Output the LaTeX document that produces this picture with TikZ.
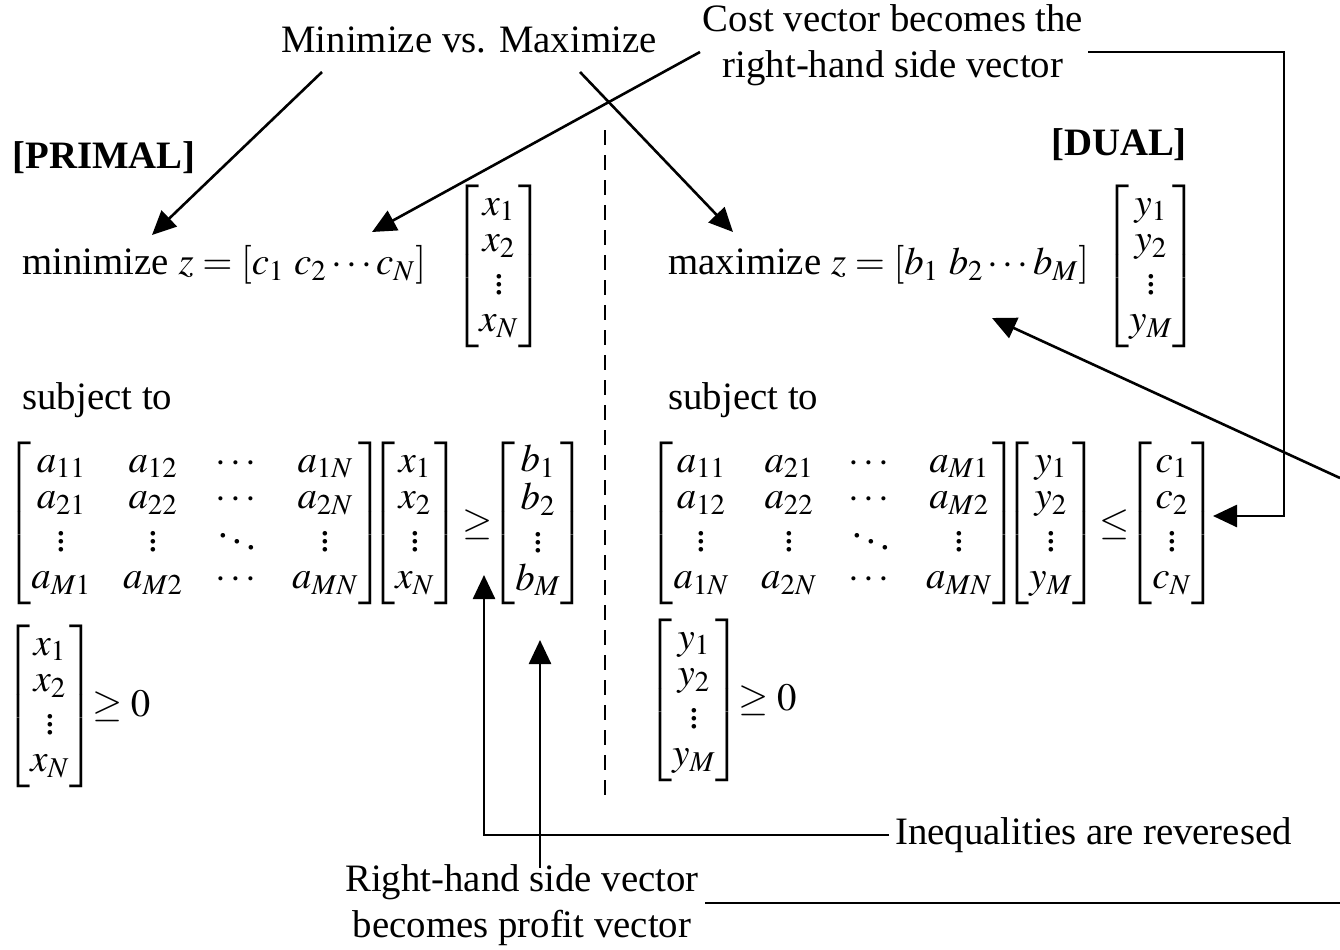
\documentclass[tikz,border=0pt]{standalone}
\usepackage{amsmath}
\usepackage{mathptmx}
\usepackage{fontspec}
\setmainfont{Liberation Serif}
\usetikzlibrary{arrows.meta}
\renewcommand{\arraystretch}{0.8}
\newcommand{\wideA}[1]{{\setlength{\arraycolsep}{8pt}#1}}
\begin{document}
\begin{tikzpicture}[x=0.5pt,y=-0.5pt,
  every node/.style={font=\fontsize{19.4}{23}\selectfont, inner sep=0pt},
  conn/.style={line width=1.3pt},
  arr/.style={conn,-{Triangle[length=12pt,width=11pt]}},
  bold/.style={font=\fontsize{19.4}{23}\selectfont\bfseries}]
\useasboundingbox (0,0) rectangle (1340,949);
% texts
\node (mvm) at (469,40) {Minimize vs. Maximize};
\node[align=center] (cost) at (893,45) {Cost vector becomes the\\right-hand side vector};
\node[bold] (primal) at (104,158) {[PRIMAL]};
\node[bold] (dual) at (1119,145) {[DUAL]};
\node[anchor=west] (pobj) at (22,265) {minimize $z=[c_1\ c_2\cdots c_N]$};
\node (px) at (499,266) {$\begin{bmatrix}x_1\\x_2\\\vdots\\x_N\end{bmatrix}$};
\node[anchor=west] (dobj) at (668,265) {maximize $z=[b_1\ b_2\cdots b_M]$};
\node (dy) at (1151,266) {$\begin{bmatrix}y_1\\y_2\\\vdots\\y_M\end{bmatrix}$};
\node[anchor=west] (pst) at (22,400) {subject to};
\node[anchor=west] (dst) at (668,400) {subject to};
% primal constraints
\node (pA) at (195,523) {\wideA{$\begin{bmatrix}a_{11}&a_{12}&\cdots&a_{1N}\\a_{21}&a_{22}&\cdots&a_{2N}\\\vdots&\vdots&\ddots&\vdots\\a_{M1}&a_{M2}&\cdots&a_{MN}\end{bmatrix}$}};
\node (pxv) at (415,523) {$\begin{bmatrix}x_1\\x_2\\\vdots\\x_N\end{bmatrix}$};
\node (pge) at (478,525) {$\geq$};
\node (pb) at (538,523) {$\begin{bmatrix}b_1\\b_2\\\vdots\\b_M\end{bmatrix}$};
\node (pxl) at (50,706) {$\begin{bmatrix}x_1\\x_2\\\vdots\\x_N\end{bmatrix}$};
\node[anchor=west] (pnn) at ([xshift=-2pt]pxl.east) {$\geq 0$};
% dual constraints
\node (dA) at (833,523) {\wideA{$\begin{bmatrix}a_{11}&a_{21}&\cdots&a_{M1}\\a_{12}&a_{22}&\cdots&a_{M2}\\\vdots&\vdots&\ddots&\vdots\\a_{1N}&a_{2N}&\cdots&a_{MN}\end{bmatrix}$}};
\node (dyv) at (1051,523) {$\begin{bmatrix}y_1\\y_2\\\vdots\\y_M\end{bmatrix}$};
\node (dle) at (1115,525) {$\leq$};
\node (dc) at (1172,523) {$\begin{bmatrix}c_1\\c_2\\\vdots\\c_N\end{bmatrix}$};
\node (dyl) at (694,700) {$\begin{bmatrix}y_1\\y_2\\\vdots\\y_M\end{bmatrix}$};
\node[anchor=west] (dnn) at ([xshift=-2pt]dyl.east) {$\geq 0$};
% bottom texts
\node[anchor=west] (ineq) at (895,835) {Inequalities are reveresed};
\node[align=center] (rhs) at (522,905) {Right-hand side vector\\becomes profit vector};
% coordinates
\coordinate (a1s) at (322,72);
\coordinate (a1e) at (152,235);
\coordinate (a2s) at (580,72);
\coordinate (a2e) at (733,232);
\coordinate (a3s) at (700,52);
\coordinate (a3e) at (372,232);
\coordinate (c4s) at (1088,52);
\coordinate (c4b) at (1284,52);
\coordinate (c4e) at (1213,516);
\coordinate (c5s) at (1340,478);
\coordinate (c5e) at (992,318);
\coordinate (c6s) at (889,835);
\coordinate (c6e) at (484,575);
\coordinate (c7s) at (540,868);
\coordinate (c7e) at (540,640);
\coordinate (c8s) at (705,903);
\coordinate (c8e) at (1340,903);
\coordinate (d1) at (605,130);
\coordinate (d2) at (605,795);
% connectors
\draw[arr] (a1s) -- (a1e);
\draw[arr] (a2s) -- (a2e);
\draw[arr] (a3s) -- (a3e);
\draw[arr] (c4s) -- (c4b) |- (c4e);
\draw[arr] (c5s) -- (c5e);
\draw[arr] (c6s) -| (c6e);
\draw[arr] (c7s) -- (c7e);
\draw[conn] (c8s) -- (c8e);
\draw[line width=1pt, dash pattern=on 7.5pt off 5pt] (d1) -- (d2);
\end{tikzpicture}
\end{document}
